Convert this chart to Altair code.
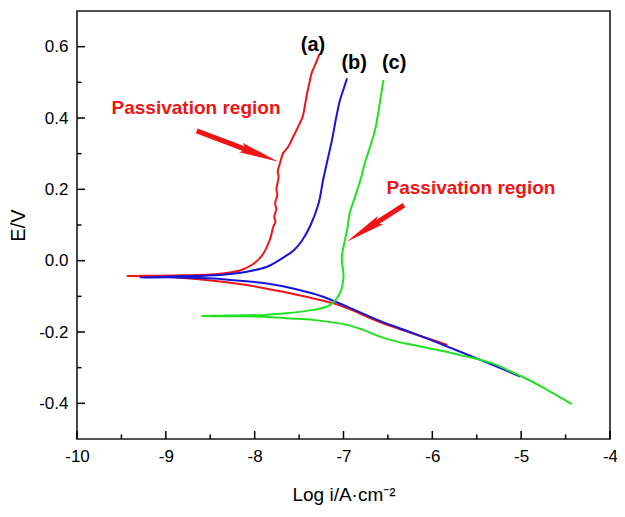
import math
import altair as alt
import pandas as pd

# ---------------- data ----------------
a_x = [-5.83, -6.21, -6.59, -6.96, -7.12, -7.34, -7.71, -8.09, -8.47, -8.84, -9.20, -9.44,
       -9.10, -8.80, -8.50, -8.30, -8.15, -8.02, -7.95, -7.90, -7.83, -7.79, -7.765, -7.78,
       -7.755, -7.77, -7.745, -7.755, -7.73, -7.74, -7.715, -7.68, -7.62, -7.565, -7.51, -7.46,
       -7.43, -7.41, -7.385, -7.36, -7.32, -7.27]
a_y = [-0.236, -0.205, -0.172, -0.133, -0.119, -0.106, -0.086, -0.068, -0.056, -0.048, -0.044, -0.043,
       -0.042, -0.041, -0.039, -0.034, -0.026, -0.010, 0.005, 0.021, 0.058, 0.095, 0.110, 0.122,
       0.145, 0.160, 0.185, 0.200, 0.235, 0.250, 0.273, 0.301, 0.320, 0.348, 0.376, 0.404,
       0.441, 0.469, 0.497, 0.525, 0.549, 0.579]

b_x = [-5.01, -5.275, -5.46, -5.83, -6.21, -6.59, -6.96, -7.23, -7.53, -7.86, -8.09, -8.47, -8.84, -9.29,
       -8.84, -8.39, -8.09, -7.86, -7.67, -7.565, -7.47, -7.37, -7.28, -7.23, -7.18, -7.13, -7.08,
       -7.04, -6.99, -6.96]
b_y = [-0.325, -0.297, -0.278, -0.241, -0.204, -0.169, -0.129, -0.101, -0.080, -0.064, -0.058, -0.050, -0.047, -0.047,
       -0.044, -0.040, -0.031, -0.017, 0.010, 0.028, 0.055, 0.100, 0.161, 0.226, 0.282, 0.338, 0.404,
       0.450, 0.488, 0.511]

c_x = [-4.43, -4.56, -4.71, -4.90, -5.01, -5.16, -5.28, -5.46, -5.65, -5.83, -6.03, -6.22, -6.40, -6.59,
       -6.78, -6.96, -7.34, -7.60, -7.90, -8.28, -8.60,
       -8.28, -7.90, -7.71, -7.34, -7.15, -7.04, -7.00, -7.02, -7.00, -6.96, -6.93, -6.87, -6.81,
       -6.76, -6.70, -6.645, -6.61, -6.58, -6.55]
c_y = [-0.402, -0.383, -0.362, -0.336, -0.323, -0.306, -0.292, -0.278, -0.267, -0.256, -0.246, -0.236, -0.227, -0.213,
       -0.194, -0.180, -0.166, -0.162, -0.157, -0.156, -0.155,
       -0.154, -0.152, -0.149, -0.138, -0.124, -0.091, -0.045, 0.005, 0.039, 0.086, 0.133, 0.179, 0.226,
       0.273, 0.320, 0.366, 0.413, 0.460, 0.507]

curve_names = ["a", "b", "c"]
curve_colors = ["#f01414", "#1414dc", "#22e022"]

curve_label_text = ["(a)", "(b)", "(c)"]
curve_label_x = [-7.343, -6.88, -6.43]
curve_label_y = [0.605, 0.554, 0.554]

note_text = ["Passivation region", "Passivation region"]
note_x = [-8.66, -5.565]
note_y = [0.428, 0.204]

arrow_x0 = [-8.652, -6.319]
arrow_y0 = [0.364, 0.156]
arrow_x1 = [-7.734, -6.964]
arrow_y1 = [0.2775, 0.0532]

x_major = [-10, -9, -8, -7, -6, -5, -4]
x_minor = [-9.5, -8.5, -7.5, -6.5, -5.5, -4.5]
y_major = [-0.4, -0.2, 0.0, 0.2, 0.4, 0.6]
y_minor = [-0.3, -0.1, 0.1, 0.3, 0.5]

X_DOMAIN = [-10, -4]
Y_DOMAIN = [-0.5, 0.7]

# ---------------- layout / style ----------------
W, H = 533, 428
FONT = "Liberation Sans"
RED = "#f01414"

xs = alt.Scale(domain=X_DOMAIN, nice=False, zero=False)
ys = alt.Scale(domain=Y_DOMAIN, nice=False, zero=False)

rows = []
for name, xv, yv in [("a", a_x, a_y), ("b", b_x, b_y), ("c", c_x, c_y)]:
    for i, (x, y) in enumerate(zip(xv, yv)):
        rows.append({"curve": name, "x": x, "y": y, "order": i})
curves = pd.DataFrame(rows)

x_axis = alt.Axis(
    values=x_major, title="Log i/A·cm⁻²", ticks=False, tickSize=0, domain=False, grid=False,
    labelExpr="datum.value < 0 ? '-' + format(-datum.value, 'd') : format(datum.value, 'd')",
    labelFont=FONT, labelFontSize=17, labelColor="black", labelPadding=9,
    labelFlush=False, labelOverlap=False,
    titleFont=FONT, titleFontSize=19, titleFontWeight="normal", titleColor="black",
    titleY=61, titleBaseline="alphabetic",
)
y_axis = alt.Axis(
    values=y_major, title="E/V", ticks=False, tickSize=0, domain=False, grid=False,
    labelExpr="datum.value < 0 ? '-' + format(-datum.value, '.1f') : format(datum.value, '.1f')",
    labelFont=FONT, labelFontSize=17, labelColor="black", labelPadding=9,
    labelFlush=False, labelOverlap=False,
    titleFont=FONT, titleFontSize=20, titleFontWeight="normal", titleColor="black",
    titleX=-59, titleBaseline="middle",
)

def X(field="x"):
    return alt.X(f"{field}:Q", scale=xs, axis=x_axis)

def Y(field="y"):
    return alt.Y(f"{field}:Q", scale=ys, axis=y_axis)

lines = alt.Chart(curves).mark_line(strokeWidth=2, interpolate="catmull-rom").encode(
    x=X(), y=Y(),
    color=alt.Color("curve:N", scale=alt.Scale(domain=curve_names, range=curve_colors), legend=None),
    order="order:Q",
)

def tick_layer(values, horizontal, length):
    base = alt.Chart(pd.DataFrame({"x": values, "y": values})).mark_rule(color="black", strokeWidth=1.5)
    if horizontal:  # ticks on the x axis (inward)
        return base.encode(x=X(), y=alt.value(H), y2=alt.value(H - length))
    return base.encode(y=Y(), x=alt.value(0), x2=alt.value(length))

ticks = [tick_layer(x_major, True, 8), tick_layer(x_minor, True, 4.5),
         tick_layer(y_major, False, 8), tick_layer(y_minor, False, 4.5)]

labels = alt.Chart(pd.DataFrame({"t": curve_label_text, "x": curve_label_x, "y": curve_label_y})).mark_text(
    font=FONT, fontSize=20, fontWeight="bold", color="black"
).encode(x=X(), y=Y(), text="t:N")

notes = alt.Chart(pd.DataFrame({"t": note_text, "x": note_x, "y": note_y})).mark_text(
    font=FONT, fontSize=19, fontWeight="bold", color=RED
).encode(x=X(), y=Y(), text="t:N")

# arrows: shaft (rule) + spear-like head (custom symbol, tip at origin)
HEAD = "M0,0L0.5,4L0,3.4L-0.5,4Z"
def to_px(x, y):
    return ((x - X_DOMAIN[0]) / (X_DOMAIN[1] - X_DOMAIN[0]) * W,
            (Y_DOMAIN[1] - y) / (Y_DOMAIN[1] - Y_DOMAIN[0]) * H)
def to_data(px, py):
    return (X_DOMAIN[0] + px / W * (X_DOMAIN[1] - X_DOMAIN[0]),
            Y_DOMAIN[1] - py / H * (Y_DOMAIN[1] - Y_DOMAIN[0]))

arrow_layers = []
for x0, y0, x1, y1 in zip(arrow_x0, arrow_y0, arrow_x1, arrow_y1):
    p0 = to_px(x0, y0)
    p1 = to_px(x1, y1)
    dx, dy = p1[0] - p0[0], p1[1] - p0[1]
    L = math.hypot(dx, dy)
    ux, uy = dx / L, dy / L
    sx, sy = to_data(p1[0] - 30 * ux, p1[1] - 30 * uy)
    ang = math.degrees(math.atan2(ux, -uy)) % 360
    shaft = alt.Chart(pd.DataFrame({"x": [x0], "y": [y0], "x2": [sx], "y2": [sy]})).mark_rule(
        color=RED, strokeWidth=5
    ).encode(x=X(), y=Y(), x2="x2:Q", y2="y2:Q")
    head = alt.Chart(pd.DataFrame({"x": [x1], "y": [y1]})).mark_point(
        shape=HEAD, filled=True, size=400, color=RED, opacity=1, strokeWidth=0
    ).encode(x=X(), y=Y(), angle=alt.value(ang))
    arrow_layers += [shaft, head]

chart = alt.layer(lines, *ticks, labels, notes, *arrow_layers).properties(
    width=W, height=H,
    autosize=alt.AutoSizeParams(type="none"),
    padding={"left": 69, "top": 3, "right": 7, "bottom": 70},
    background="white",
).configure_view(stroke="#1a1a1a", strokeWidth=1.6)

chart.save("out.html", embed_options={"renderer": "svg", "actions": False})
